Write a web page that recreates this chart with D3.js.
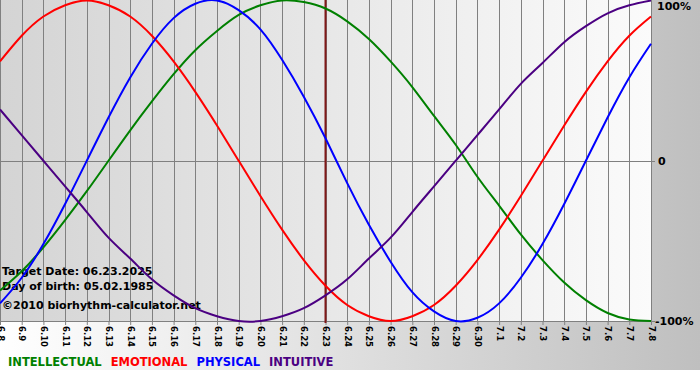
<!DOCTYPE html>
<html>
<head>
<meta charset="utf-8">
<script src="https://cdn.jsdelivr.net/npm/d3@7"></script>
<style>
  body { margin: 0; background: #fff; }
  svg { display: block; }
  text { font-family: "DejaVu Sans", Verdana, sans-serif; }
</style>
</head>
<body>
<svg id="chart" width="700" height="380"></svg>
<script>
// day labels, 06.08 .. 07.08
const days = ['6.8', '6.9', '6.10', '6.11', '6.12', '6.13', '6.14', '6.15', '6.16', '6.17',
  '6.18', '6.19', '6.20', '6.21', '6.22', '6.23', '6.24', '6.25', '6.26', '6.27', '6.28',
  '6.29', '6.30', '7.1', '7.2', '7.3', '7.4', '7.5', '7.6', '7.7', '7.8'];

// values in percent, one per day
const intellectual = [-81, -69, -54, -37, -19, 0, 19, 37, 54, 69, 81, 91, 97, 100, 99, 95,
  87, 76, 62, 46, 28, 10, -10, -28, -46, -62, -76, -87, -95, -99, -100];
const emotional = [62, 78, 90, 97, 100, 97, 90, 78, 62, 43, 22, 0, -22, -43, -62, -78,
  -90, -97, -100, -97, -90, -78, -62, -43, -22, 0, 22, 43, 62, 78, 90];
const physical = [-89, -73, -52, -27, 0, 27, 52, 73, 89, 98, 100, 94, 82, 63, 40, 14,
  -14, -40, -63, -82, -94, -100, -98, -89, -73, -52, -27, 0, 27, 52, 73];
const intuitive = [32, 16, 0, -16, -32, -48, -61, -74, -84, -92, -97, -100, -100, -97, -92, -84,
  -74, -61, -48, -32, -16, 0, 16, 32, 48, 61, 74, 84, 92, 97, 100];

const yTicks = [100, 0, -100];
const targetDay = '6.23';
const infoLines = ['Target Date: 06.23.2025', 'Day of birth: 05.02.1985', '\u00a92010 biorhythm-calculator.net'];

const series = [
  { name: 'INTELLECTUAL', values: intellectual, color: '#008000' },
  { name: 'EMOTIONAL', values: emotional, color: '#ff0000' },
  { name: 'PHYSICAL', values: physical, color: '#0000ff' },
  { name: 'INTUITIVE', values: intuitive, color: '#4b0082' }
];

const width = 700;
const plot = { left: 0, top: 0, right: 651, bottom: 321 };

const svg = d3.select('#chart');
const defs = svg.append('defs');

const outerGrad = defs.append('linearGradient').attr('id', 'outerGrad');
outerGrad.append('stop').attr('offset', '0%').attr('stop-color', '#ffffff');
outerGrad.append('stop').attr('offset', '100%').attr('stop-color', '#bfbfbf');

const plotGrad = defs.append('linearGradient').attr('id', 'plotGrad');
plotGrad.append('stop').attr('offset', '0%').attr('stop-color', '#d4d4d4');
plotGrad.append('stop').attr('offset', '100%').attr('stop-color', '#fbfbfb');

defs.append('clipPath').attr('id', 'plotClip')
  .append('rect')
  .attr('x', plot.left).attr('y', plot.top - 2)
  .attr('width', plot.right - plot.left + 1).attr('height', plot.bottom - plot.top + 4);

svg.append('rect')
  .attr('width', width).attr('height', 370)
  .attr('fill', 'url(#outerGrad)');

svg.append('rect')
  .attr('x', plot.left).attr('y', plot.top)
  .attr('width', plot.right - plot.left).attr('height', plot.bottom - plot.top)
  .attr('fill', 'url(#plotGrad)');

const x = d3.scalePoint()
  .domain(days)
  .range([plot.left, plot.right]);

const y = d3.scaleLinear()
  .domain([-100, 100])
  .range([plot.bottom, plot.top + 0.5]);

// vertical day grid
svg.append('g')
  .selectAll('line')
  .data(days)
  .join('line')
  .attr('x1', d => Math.round(x(d)) + 0.5)
  .attr('x2', d => Math.round(x(d)) + 0.5)
  .attr('y1', plot.top)
  .attr('y2', plot.bottom)
  .attr('stroke', '#808080')
  .attr('stroke-width', 1);

// zero line
svg.append('line')
  .attr('x1', plot.left).attr('x2', plot.right + 4)
  .attr('y1', Math.round(y(0)) + 0.5).attr('y2', Math.round(y(0)) + 0.5)
  .attr('stroke', '#808080');

// bottom axis with rotated day labels
const xAxis = svg.append('g')
  .attr('transform', `translate(0,${plot.bottom})`)
  .call(d3.axisBottom(x).tickSize(4).tickSizeOuter(0));

xAxis.select('.domain')
  .attr('d', `M${plot.left},0.5H${plot.right + 4}`)
  .attr('stroke', '#808080');
xAxis.selectAll('.tick line').attr('stroke', '#808080');
xAxis.selectAll('.tick text')
  .attr('fill', '#000')
  .attr('font-size', '8.5px')
  .attr('font-weight', 'bold')
  .attr('text-anchor', 'start')
  .attr('transform', 'rotate(90)')
  .attr('x', 5)
  .attr('y', 0)
  .attr('dy', '0.35em');

// right axis labels
const yAxis = svg.append('g')
  .attr('transform', `translate(${plot.right},0)`)
  .call(d3.axisRight(y).tickValues(yTicks).tickSize(0)
    .tickFormat(d => d === 0 ? '0' : d + '%'));
yAxis.select('.domain').remove();
yAxis.selectAll('.tick text')
  .attr('fill', '#000')
  .attr('font-size', '11px')
  .attr('font-weight', 'bold')
  .attr('x', d => d === 0 ? 7 : (d < 0 ? 4 : 6));
yAxis.selectAll('.tick')
  .filter(d => d === 100)
  .select('text').attr('dy', '0.8em');

// info text bottom left
svg.append('g')
  .selectAll('text')
  .data(infoLines)
  .join('text')
  .attr('x', 2)
  .attr('y', (d, i) => [275, 290, 309][i])
  .attr('font-size', '11px')
  .attr('font-weight', 'bold')
  .attr('fill', '#000')
  .text(d => d);

// target day marker
svg.append('line')
  .attr('x1', x(targetDay)).attr('x2', x(targetDay))
  .attr('y1', plot.top).attr('y2', plot.bottom + 2)
  .attr('stroke', '#801818')
  .attr('stroke-width', 2);

// curves
const line = d3.line()
  .x((d, i) => x(days[i]))
  .y(d => y(d))
  .curve(d3.curveNatural);

svg.append('g')
  .attr('clip-path', 'url(#plotClip)')
  .selectAll('path')
  .data(series)
  .join('path')
  .attr('fill', 'none')
  .attr('stroke', d => d.color)
  .attr('stroke-width', 2)
  .attr('d', d => line(d.values));

// legend
const legend = svg.append('g')
  .attr('transform', 'translate(8,366)');
let lx = 0;
series.forEach(s => {
  const t = legend.append('text')
    .attr('x', lx)
    .attr('font-size', '11.5px')
    .attr('font-weight', 'bold')
    .attr('fill', s.color)
    .text(s.name);
  lx += t.node().getComputedTextLength() + 9;
});
</script>
</body>
</html>
